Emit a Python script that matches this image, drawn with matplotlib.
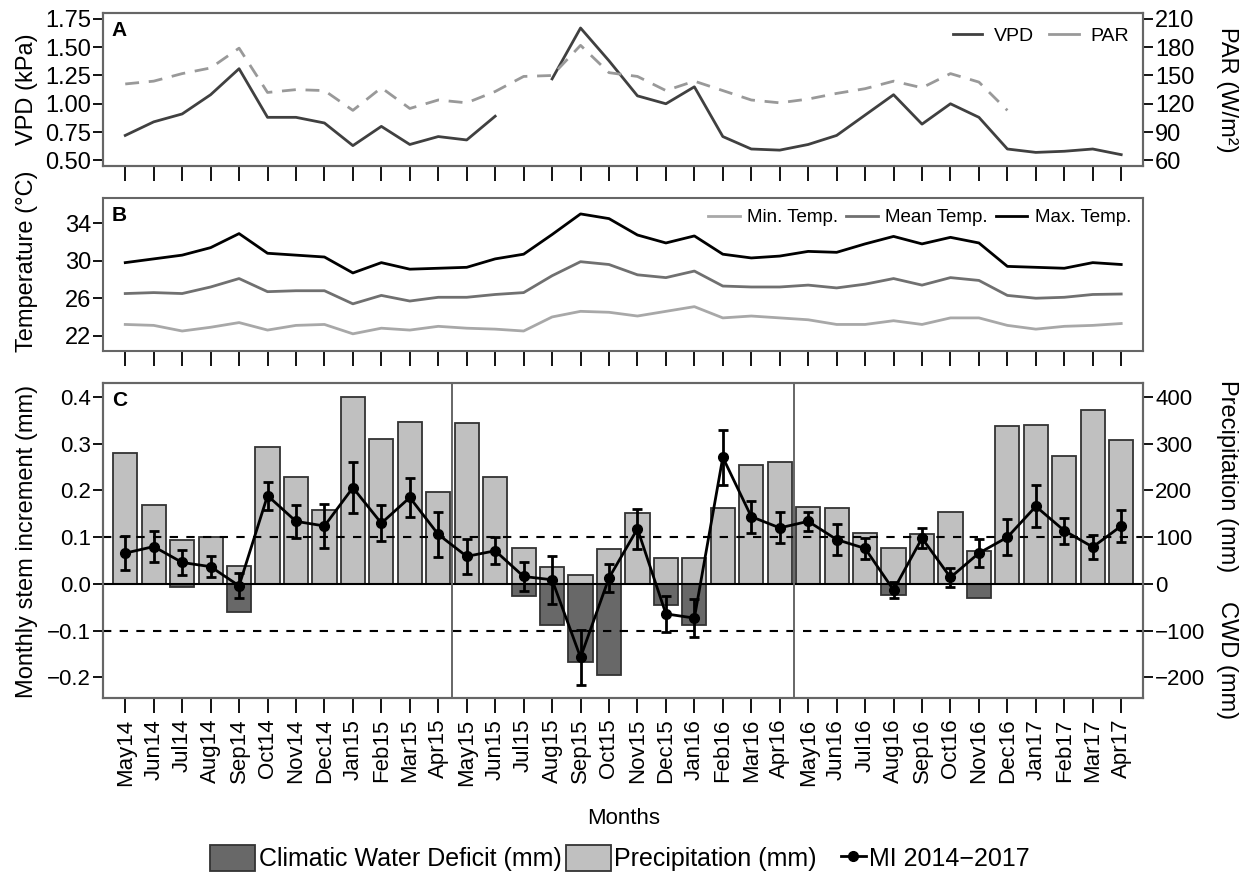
import numpy as np
import matplotlib
matplotlib.use("Agg")
from matplotlib import pyplot as plt
from matplotlib.patches import Patch
from matplotlib.lines import Line2D
from matplotlib.legend_handler import HandlerLine2D

plt.rcParams['font.family'] = ['Liberation Sans', 'DejaVu Sans']

nan = np.nan

months = ["May14", "Jun14", "Jul14", "Aug14", "Sep14", "Oct14", "Nov14", "Dec14",
          "Jan15", "Feb15", "Mar15", "Apr15", "May15", "Jun15", "Jul15", "Aug15",
          "Sep15", "Oct15", "Nov15", "Dec15", "Jan16", "Feb16", "Mar16", "Apr16",
          "May16", "Jun16", "Jul16", "Aug16", "Sep16", "Oct16", "Nov16", "Dec16",
          "Jan17", "Feb17", "Mar17", "Apr17"]

# panel A: vapour pressure deficit (kPa) and PAR (W/m2)
vpd = [0.72, 0.84, 0.91, 1.08, 1.31, 0.88, 0.88, 0.83, 0.63, 0.80, 0.64, 0.71,
       0.68, 0.89, nan, 1.22, 1.67, 1.38, 1.07, 1.00, 1.15, 0.71, 0.60, 0.59,
       0.64, 0.72, 0.90, 1.08, 0.82, 1.00, 0.88, 0.60, 0.57, 0.58, 0.60, 0.55]
par = [141, 144, 152, 158, 179, 132, 135, 134, 113, 137, 115, 124,
       121, 133, 149, 150, 182, 153, 149, 134, 144, 134, 124, 121,
       125, 131, 136, 144, 137, 152, 143, 113, nan, nan, nan, nan]

# panel B: temperatures (deg C)
t_min = [23.2, 23.1, 22.5, 22.9, 23.4, 22.6, 23.1, 23.2, 22.2, 22.8, 22.6, 23.0,
         22.8, 22.7, 22.5, 24.0, 24.6, 24.5, 24.1, 24.6, 25.1, 23.9, 24.1, 23.9,
         23.7, 23.2, 23.2, 23.6, 23.2, 23.9, 23.9, 23.1, 22.7, 23.0, 23.1, 23.3]
t_mean = [26.5, 26.6, 26.5, 27.2, 28.1, 26.7, 26.8, 26.8, 25.4, 26.3, 25.7, 26.1,
          26.1, 26.4, 26.6, 28.4, 29.9, 29.6, 28.5, 28.2, 28.9, 27.3, 27.2, 27.2,
          27.4, 27.1, 27.5, 28.1, 27.4, 28.2, 27.9, 26.3, 26.0, 26.1, 26.4, 26.45]
t_max = [29.8, 30.2, 30.6, 31.4, 32.9, 30.8, 30.6, 30.4, 28.7, 29.8, 29.1, 29.2,
         29.3, 30.2, 30.7, 32.8, 35.0, 34.5, 32.75, 31.9, 32.65, 30.7, 30.3, 30.5,
         31.0, 30.9, 31.8, 32.6, 31.8, 32.5, 31.9, 29.4, 29.3, 29.2, 29.8, 29.6]

# panel C: precipitation and climatic water deficit (mm), stem increment (mm)
precip = [281, 168, 94, 100, 39, 294, 228, 159, 400, 310, 346, 196,
          344, 228, 76, 37, 20, 74, 151, 56, 56, 163, 255, 261,
          165, 162, 108, 76, 107, 154, 70, 339, 341, 274, 372, 307]
cwd = [0, 0, -6, 0, -61, 0, 0, 0, 0, 0, 0, 0,
       0, 0, -25, -88, -168, -194, 0, -44, -88, 0, 0, 0,
       0, 0, 0, -24, 0, 0, -29, 0, 0, 0, 0, 0]
mi = [0.066, 0.080, 0.046, 0.037, -0.004, 0.189, 0.134, 0.124, 0.206, 0.130, 0.185, 0.106,
      0.059, 0.071, 0.016, 0.009, -0.157, 0.013, 0.118, -0.064, -0.073, 0.271, 0.144, 0.120,
      0.134, 0.095, 0.076, -0.013, 0.098, 0.014, 0.066, 0.100, 0.166, 0.114, 0.079, 0.124]
mi_err = [0.037, 0.034, 0.027, 0.023, 0.027, 0.030, 0.036, 0.047, 0.055, 0.039, 0.042, 0.048,
          0.038, 0.029, 0.032, 0.051, 0.059, 0.030, 0.043, 0.039, 0.041, 0.059, 0.034, 0.033,
          0.021, 0.033, 0.023, 0.018, 0.021, 0.020, 0.030, 0.038, 0.045, 0.028, 0.026, 0.035]

x = np.arange(len(months))
xlim = (-0.77, 35.75)
spine_col = "#666666"
label_fs = 17


def style_axes(ax, fs):
    for s in ax.spines.values():
        s.set_color(spine_col)
        s.set_linewidth(1.5)
    ax.tick_params(axis="both", width=1.3, colors="black", labelsize=fs)
    ax.tick_params(axis="y", length=7, pad=2)
    ax.tick_params(axis="x", length=11, labelsize=16)
    ax.set_xlim(*xlim)
    ax.set_xticks(x)


class ShortLine(HandlerLine2D):
    # shorter line segment for the MI entry, pushed against its text
    def create_artists(self, legend, orig_handle, xdescent, ydescent, width,
                       height, fontsize, trans):
        w = width * 0.55
        return super().create_artists(legend, orig_handle, xdescent - (width - w),
                                      ydescent, w, height, fontsize, trans)


fig = plt.figure(figsize=(12.48, 8.8), dpi=100)

# ---- A ----
axA = fig.add_axes([0.0828, 0.8114, 0.8327, 0.1735])
style_axes(axA, 17)
axA.plot(x, vpd, color="#404040", lw=2)
axA.set_ylim(0.45, 1.80)
axA.set_yticks([0.50, 0.75, 1.00, 1.25, 1.50, 1.75])
axA.set_yticklabels(["0.50", "0.75", "1.00", "1.25", "1.50", "1.75"])
axA.set_xticklabels([])
axA2 = axA.twinx()
axA2.plot(x, par, color="#999999", lw=2, dashes=(5, 3.5))
axA2.set_ylim(54, 216)
axA2.set_yticks([60, 90, 120, 150, 180, 210])
axA2.tick_params(axis="y", length=7, width=1.3, labelsize=17, pad=2)
for s in axA2.spines.values():
    s.set_color(spine_col)
    s.set_linewidth(1.5)
axA.text(0.008, 0.95, "A", transform=axA.transAxes, fontsize=15, fontweight="bold",
         va="top")
axA.legend([Line2D([], [], color="#404040", lw=2),
            Line2D([], [], color="#999999", lw=2)],
           ["VPD", "PAR"], loc="upper right", ncol=2, frameon=False,
           fontsize=14, handlelength=1.5, columnspacing=0.8, handletextpad=0.6,
           borderaxespad=0.3)

# ---- B ----
axB = fig.add_axes([0.0828, 0.6015, 0.8327, 0.1735])
style_axes(axB, 17)
axB.plot(x, t_min, color="#a8a8a8", lw=2, label="Min. Temp.")
axB.plot(x, t_mean, color="#707070", lw=2, label="Mean Temp.")
axB.plot(x, t_max, color="black", lw=2, label="Max. Temp.")
axB.set_ylim(20.4, 36.7)
axB.set_yticks([22, 26, 30, 34])
axB.set_xticklabels([])
axB.text(0.008, 0.95, "B", transform=axB.transAxes, fontsize=15, fontweight="bold",
         va="top")
axB.legend(loc="upper right", ncol=3, frameon=False, fontsize=13.5,
           handlelength=1.7, columnspacing=0.4, handletextpad=0.4,
           borderaxespad=0.2)

# ---- C ----
axC = fig.add_axes([0.0828, 0.2068, 0.8327, 0.3580])
style_axes(axC, 16)
light = "#c0c0c0"
dark = "#686868"
axC.bar(x, precip, width=0.85, color=light, edgecolor="#333333", lw=1.3, zorder=2)
axC.bar(x, cwd, width=0.85, color=dark, edgecolor="#333333", lw=1.3, zorder=2)
axC.set_ylim(-244, 430)
axC.set_xticklabels(months, rotation=90)
axC.tick_params(axis="x", pad=4)

axM = axC.twinx()
# precipitation / CWD scale on the right, stem increment on the left
axC.yaxis.tick_right()
axC.set_yticks([-200, -100, 0, 100, 200, 300, 400])
axM.yaxis.tick_left()
axM.set_ylim(-0.244, 0.43)
axM.set_yticks([-0.2, -0.1, 0.0, 0.1, 0.2, 0.3, 0.4])
axM.set_yticklabels(["−0.2", "−0.1", "0.0", "0.1", "0.2", "0.3", "0.4"])
axM.tick_params(axis="y", length=7, width=1.3, labelsize=16, pad=2)
for s in axM.spines.values():
    s.set_color(spine_col)
    s.set_linewidth(1.5)
axM.axhline(0, color="black", lw=1.5, zorder=1)
axM.axhline(0.1, color="black", lw=1.5, dashes=(4, 4), zorder=1)
axM.axhline(-0.1, color="black", lw=1.5, dashes=(4, 4), zorder=1)
axM.axvline(11.5, color="#666666", lw=1.4)
axM.axvline(23.5, color="#666666", lw=1.4)
axM.errorbar(x, mi, yerr=mi_err, color="black", lw=2, marker="o", markersize=7,
             elinewidth=2, capsize=3.5, capthick=2)
axM.text(0.008, 0.975, "C", transform=axM.transAxes, fontsize=15, fontweight="bold",
         va="top")

# axis titles
fig.text(0.0216, 0.899, "VPD (kPa)", fontsize=label_fs, rotation=90,
         ha="center", va="center")
fig.text(0.0216, 0.703, "Temperature (°C)", fontsize=label_fs, rotation=90,
         ha="center", va="center")
fig.text(0.0216, 0.385, "Monthly stem increment (mm)", fontsize=label_fs,
         rotation=90, ha="center", va="center")
fig.text(0.983, 0.898, "PAR (W/m²)", fontsize=label_fs, rotation=270,
         ha="center", va="center")
fig.text(0.983, 0.459, "Precipitation (mm)", fontsize=label_fs, rotation=270,
         ha="center", va="center")
fig.text(0.983, 0.25, "CWD (mm)", fontsize=label_fs, rotation=270,
         ha="center", va="center")
fig.text(0.5, 0.070, "Months", fontsize=16, ha="center", va="center")

mi_handle = Line2D([], [], color="black", lw=2, marker="o", markersize=7)
fig.legend([Patch(facecolor=dark, edgecolor="#333333", lw=1.3),
            Patch(facecolor=light, edgecolor="#333333", lw=1.3),
            mi_handle],
           ["Climatic Water Deficit (mm)", "Precipitation (mm)", "MI 2014−2017"],
           loc="center", bbox_to_anchor=(0.497, 0.025), ncol=3, frameon=False,
           fontsize=18, handlelength=1.8, handleheight=1.2, columnspacing=0.15,
           handletextpad=0.15, handler_map={mi_handle: ShortLine()})

fig.savefig("out.png", dpi=100)
